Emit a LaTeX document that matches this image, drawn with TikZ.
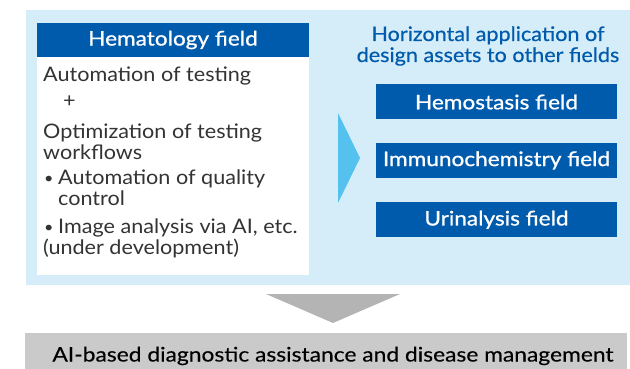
\documentclass[tikz,border=0pt]{standalone}
\usepackage{fontspec}
\setmainfont{Lato}[FakeStretch=1.08]
\newfontfamily\medfont{Lato}[FakeStretch=1.13, FakeBold=0.9]
\newfontfamily\ttlfont{Lato}[FakeStretch=1.08, FakeBold=0.5]
\newfontfamily\barfont{Lato}[FakeStretch=1.14, FakeBold=0.3]
\usetikzlibrary{positioning}

\definecolor{hemablue}{HTML}{005BAC}
\definecolor{panelblue}{HTML}{D5ECF9}
\definecolor{arrowblue}{HTML}{55C1EF}
\definecolor{arrowgray}{HTML}{B4B4B4}
\definecolor{bargray}{HTML}{CACACA}
\definecolor{textgray}{HTML}{333333}

\newcommand{\dotitem}{\makebox[14pt][l]{\raisebox{1pt}{\scalebox{0.75}{\textbullet}}}}

\begin{document}
\begin{tikzpicture}[
    x=1pt, y=-1pt,
    font=\fontsize{20}{21}\selectfont,
    panel/.style={fill=panelblue, inner sep=0pt, anchor=north west},
    header/.style={fill=hemablue, text=white, inner sep=0pt, minimum width=272pt, minimum height=34pt, font=\fontsize{20}{21}\selectfont\medfont},
    field/.style={fill=hemablue, text=white, inner sep=0pt, minimum width=241pt, minimum height=35pt, font=\fontsize{20}{21}\selectfont\medfont},
    line/.style={anchor=base west, inner sep=0pt, text=textgray},
    title/.style={anchor=base, inner sep=0pt, text=hemablue, font=\fontsize{20}{21}\selectfont\ttlfont}
]
\useasboundingbox (0,0) rectangle (630,369);

% background panel
\node[panel, minimum width=604pt, minimum height=275pt] (pnl) at (26,10) {};

% hematology column
\node[header] (hema) at (173,40) {Hematology field};
\node[fill=white, inner sep=0pt, minimum width=272pt, minimum height=218pt, anchor=north] (hemabody) at (hema.south) {};

\foreach \x/\y/\t [count=\i] in {
    43/81.5/{Automation of testing},
    63/107/{+},
    43/139/{Optimization of testing},
    43/159/{workflows},
    44/184/{\dotitem Automation of quality},
    58/205.5/{control},
    44/233/{\dotitem Image analysis via AI, etc.},
    43/254/{(under development)}}
  \node[line] (txt\i) at (\x,\y) {\t};

% other fields
\node[title] (ttl1) at (488,41) {Horizontal application of};
\node[title] (ttl2) at (488,62) {design assets to other fields};

\node[field] (hemo) at (496.5,102) {Hemostasis field};
\node[field, below=23pt of hemo] (immu) {Immunochemistry field};
\node[field, below=24pt of immu] (urin) {Urinalysis field};

% arrows
\coordinate (bt) at (338,113);
\coordinate (bb) at (338,203);
\coordinate (btip) at (360,158);
\fill[arrowblue] (bt) -- (btip) -- (bb) -- cycle;

\coordinate (gl) at (266,294);
\coordinate (gr) at (400,294);
\coordinate (gtip) at (333,323);
\fill[arrowgray] (gl) -- (gr) -- (gtip) -- cycle;

% result bar
\node[fill=bargray, inner sep=0pt, minimum width=602pt, minimum height=37pt, anchor=north west] (bar) at (25,333) {};
\node[anchor=base, inner sep=0pt, text=black, font=\fontsize{20}{21}\selectfont\barfont] (res) at (333,361.5) {AI-based diagnostic assistance and disease management};

\end{tikzpicture}
\end{document}
